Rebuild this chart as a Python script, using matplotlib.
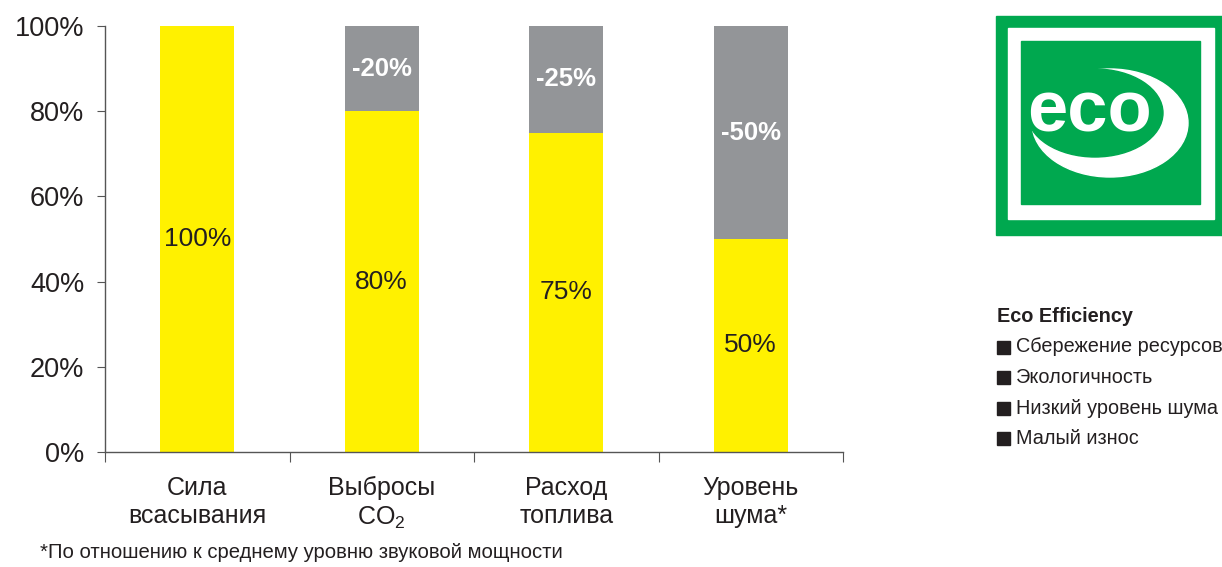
import matplotlib
matplotlib.use("Agg")
import matplotlib.pyplot as plt
from matplotlib.patches import Rectangle, Ellipse

plt.rcParams['font.family'] = ['Liberation Sans', 'DejaVu Sans']
plt.rcParams['mathtext.default'] = 'regular'

categories = ["Сила\nвсасывания", "Выбросы\nCO$_2$", "Расход\nтоплива", "Уровень\nшума*"]
base_values = [100, 80, 75, 50]
reduction_values = [0, 20, 25, 50]
base_labels = ["100%", "80%", "75%", "50%"]
reduction_labels = ["", "-20%", "-25%", "-50%"]
y_ticks = [0, 20, 40, 60, 80, 100]
legend_title = "Eco Efficiency"
legend_items = ["Сбережение ресурсов", "Экологичность", "Низкий уровень шума", "Малый износ"]
footnote = "*По отношению к среднему уровню звуковой мощности"

YELLOW = "#FFF100"
GRAY = "#939598"
GREEN = "#00A84F"
TXT = "#231F20"

W, H = 1222, 567
fig = plt.figure(figsize=(12.22, 5.67), dpi=100)
ax = fig.add_axes([105/W, 1-452/H, (843-105)/W, (452-26)/H])

x = range(len(categories))
ax.bar(x, base_values, width=0.4, color=YELLOW, zorder=2)
ax.bar(x, reduction_values, width=0.4, bottom=base_values, color=GRAY, zorder=2)

for i in x:
    ax.text(i, base_values[i] * 0.5, base_labels[i], ha='center', va='center',
            fontsize=19, color=TXT)
    if reduction_values[i] > 0:
        ax.text(i, base_values[i] + reduction_values[i] * 0.5,
                reduction_labels[i], ha='center', va='center', fontsize=18.5,
                color='white', fontweight='bold')

ax.set_xlim(-0.5, 3.5)
ax.set_ylim(0, 100)
ax.set_yticks(y_ticks)
ax.set_yticklabels([f"{v}%" for v in y_ticks], fontsize=19.5, color=TXT)
ax.set_xticks([-0.5, 0.5, 1.5, 2.5, 3.5])
ax.set_xticklabels([])
ax.set_xticks(list(x), minor=True)
ax.set_xticklabels(categories, minor=True, fontsize=18, color=TXT, linespacing=1.25)
ax.tick_params(axis='x', which='minor', length=0, pad=17)
ax.tick_params(axis='x', which='major', length=7, color='#555555', direction='out')
ax.tick_params(axis='y', length=6, color='#555555', pad=9)
for s in ['top', 'right']:
    ax.spines[s].set_visible(False)
for s in ['left', 'bottom']:
    ax.spines[s].set_color('#555555')
    ax.spines[s].set_linewidth(1)

# footnote
fig.text(40/W, 1-553/H, footnote, fontsize=14.6, color=TXT, va='center')

# legend block
fig.text(997/W, 1-317/H, legend_title, fontsize=14.3, fontweight='bold', color=TXT, va='center')
for k, item in enumerate(legend_items):
    yc = 347 + 30.5 * k
    fig.patches.append(Rectangle((997/W, 1-(yc+6.5)/H), 13/W, 13/H, color=TXT,
                                 transform=fig.transFigure, figure=fig))
    fig.text(1016/W, 1-yc/H, item, fontsize=14.3, color=TXT, va='center')

# eco logo
def frect(x0, y0, x1, y1, c):
    fig.patches.append(Rectangle((x0/W, 1-y1/H), (x1-x0)/W, (y1-y0)/H, color=c,
                                 transform=fig.transFigure, figure=fig))
frect(996, 16, 1222, 235, GREEN)
frect(1008, 28, 1214, 219, 'white')
frect(1021, 41, 1200, 204, GREEN)
fig.patches.append(Ellipse((1110/W, 1-123/H), 156/W, 108/H, color='white',
                           transform=fig.transFigure, figure=fig))
fig.patches.append(Ellipse((1095/W, 1-113/H), 136/W, 88/H, color=GREEN,
                           transform=fig.transFigure, figure=fig))
fig.text(1090/W, 1-113/H, "eco", fontsize=52, fontweight='bold', color='white',
         ha='center', va='center')

fig.savefig("out.png", dpi=100)
